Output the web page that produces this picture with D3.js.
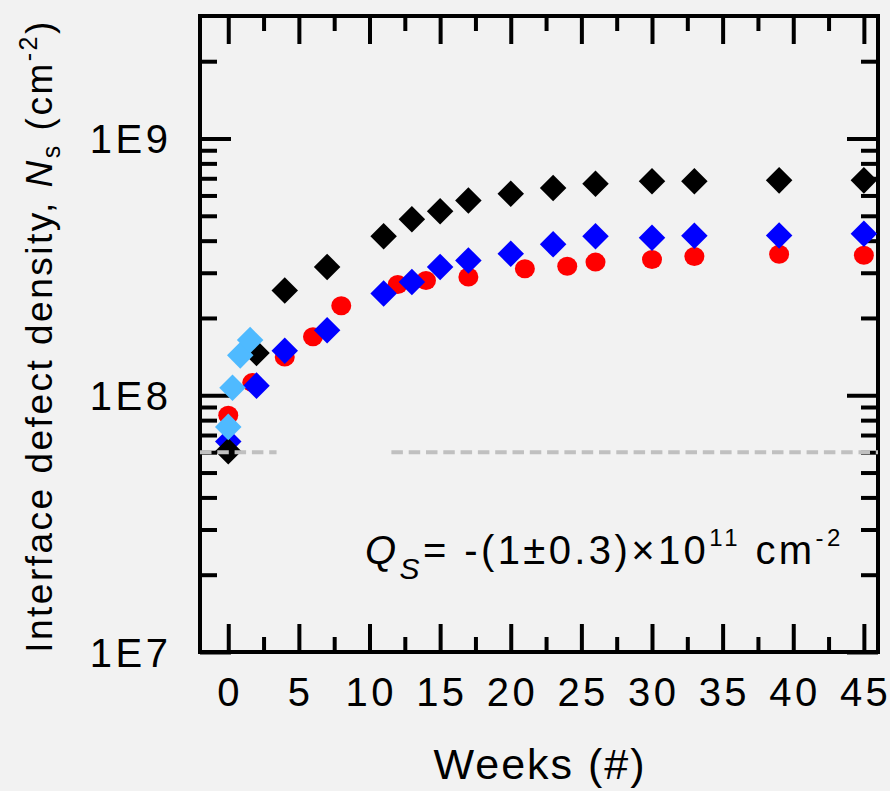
<!DOCTYPE html>
<html>
<head>
<meta charset="utf-8">
<script src="https://cdn.jsdelivr.net/npm/d3@7"></script>
<style>
  html, body { margin: 0; padding: 0; background: #f2f2f2; }
  svg { display: block; }
  text { font-family: "Liberation Sans", Arial, sans-serif; fill: #000; }
</style>
</head>
<body>
<svg id="chart" width="890" height="791"></svg>
<script>
// Interface defect density vs. storage time, four sample series
const weeksBlack = [0, 2, 4, 7, 11, 13, 15, 17, 20, 23, 26, 30, 33, 39, 45];
const nsBlack    = [6.05e7, 1.46e8, 2.56e8, 3.16e8, 4.16e8, 4.85e8, 5.21e8, 5.74e8, 6.09e8, 6.41e8, 6.66e8, 6.82e8, 6.82e8, 6.87e8, 6.87e8];

const weeksBlue  = [0, 2, 4, 7, 11, 13, 15, 17, 20, 23, 26, 30, 33, 39, 45];
const nsBlue     = [6.6e7, 1.09e8, 1.49e8, 1.79e8, 2.49e8, 2.76e8, 3.16e8, 3.35e8, 3.56e8, 3.87e8, 4.16e8, 4.11e8, 4.18e8, 4.19e8, 4.26e8];

const weeksRed   = [0, 1.7, 4, 6, 8, 12, 14, 17, 21, 24, 26, 30, 33, 39, 45];
const nsRed      = [8.36e7, 1.12e8, 1.41e8, 1.69e8, 2.23e8, 2.70e8, 2.80e8, 2.89e8, 3.11e8, 3.18e8, 3.30e8, 3.38e8, 3.47e8, 3.54e8, 3.51e8];

const weeksLight = [0, 0.3, 0.85, 1.55];
const nsLight    = [7.53e7, 1.07e8, 1.43e8, 1.64e8];

// Reference level (dashed) and the weeks where it is interrupted
const baselineNs = 6e7;
const baselineSegments = [[-2, 3.42], [11.55, 46]];

const xMajorTicks = [0, 5, 10, 15, 20, 25, 30, 35, 40, 45];
const xMinorTicks = [2.5, 7.5, 12.5, 17.5, 22.5, 27.5, 32.5, 37.5, 42.5];
const yMajorTicks = [1e7, 1e8, 1e9];
const yMajorLabels = ["1E7", "1E8", "1E9"];
const yMinorTicks = [2e7, 3e7, 4e7, 5e7, 6e7, 7e7, 8e7, 9e7, 2e8, 3e8, 4e8, 5e8, 6e8, 7e8, 8e8, 9e8, 2e9];

const margin = { left: 200, top: 16, right: 12, bottom: 139 };
const W = 890, H = 791;
const iw = W - margin.left - margin.right;
const ih = H - margin.top - margin.bottom;

const svg = d3.select("#chart");
svg.append("rect").attr("width", W).attr("height", H).attr("fill", "#f2f2f2");

const x = d3.scaleLinear().domain([-2, 46]).range([0, iw]);
const y = d3.scaleLog().domain([1e7, 3e9]).range([ih, 0]);

const g = svg.append("g").attr("transform", `translate(${margin.left},${margin.top})`);

// Inward ticks on all four sides
const tickW = 4;
function styleAxis(sel) {
  sel.select(".domain").remove();
  sel.selectAll(".tick line").attr("stroke", "#000").attr("stroke-width", tickW);
  sel.selectAll(".tick text").remove();
}
g.append("g").attr("transform", `translate(0,${ih})`)
  .call(d3.axisBottom(x).tickValues(xMajorTicks).tickSize(-28)).call(styleAxis);
g.append("g").attr("transform", `translate(0,${ih})`)
  .call(d3.axisBottom(x).tickValues(xMinorTicks).tickSize(-15)).call(styleAxis);
g.append("g")
  .call(d3.axisTop(x).tickValues(xMajorTicks).tickSize(-28)).call(styleAxis);
g.append("g")
  .call(d3.axisTop(x).tickValues(xMinorTicks).tickSize(-15)).call(styleAxis);
g.append("g")
  .call(d3.axisLeft(y).tickValues(yMajorTicks).tickSize(-31)).call(styleAxis);
g.append("g")
  .call(d3.axisLeft(y).tickValues(yMinorTicks).tickSize(-17)).call(styleAxis);
g.append("g").attr("transform", `translate(${iw},0)`)
  .call(d3.axisRight(y).tickValues(yMajorTicks).tickSize(-31)).call(styleAxis);
g.append("g").attr("transform", `translate(${iw},0)`)
  .call(d3.axisRight(y).tickValues(yMinorTicks).tickSize(-17)).call(styleAxis);

// Frame
g.append("rect").attr("x", 0).attr("y", 0).attr("width", iw).attr("height", ih)
  .attr("fill", "none").attr("stroke", "#000").attr("stroke-width", 4);

// Tick labels
const LS = 3.5;
g.append("g").selectAll("text").data(xMajorTicks).join("text")
  .attr("x", d => x(d) + LS / 2).attr("y", ih + 54)
  .attr("text-anchor", "middle").attr("font-size", 40)
  .attr("letter-spacing", LS)
  .text(d => d);
g.append("g").selectAll("text").data(yMajorTicks).join("text")
  .attr("x", -32 + LS).attr("y", d => y(d) + 14.5)
  .attr("text-anchor", "end").attr("font-size", 40)
  .attr("letter-spacing", LS)
  .text((d, i) => yMajorLabels[i]);

// Markers
const diamond = d3.symbol().type(d3.symbolSquare).size(352);
function diamonds(weeks, vals, color) {
  g.append("g").selectAll("path").data(weeks).join("path")
    .attr("d", diamond)
    .attr("transform", (d, i) => `translate(${x(d)},${y(vals[i])}) rotate(45)`)
    .attr("fill", color);
}
g.append("g").selectAll("ellipse").data(weeksRed).join("ellipse")
  .attr("cx", d => x(d)).attr("cy", (d, i) => y(nsRed[i]))
  .attr("rx", 10).attr("ry", 9.5).attr("fill", "#ff0000");
diamonds(weeksBlue, nsBlue, "#0000ff");
diamonds(weeksBlack, nsBlack, "#000000");
diamonds(weeksLight, nsLight, "#4fbaff");

// Dashed reference level
g.append("g").selectAll("line").data(baselineSegments).join("line")
  .attr("x1", d => x(d[0])).attr("x2", d => x(d[1]))
  .attr("y1", y(baselineNs)).attr("y2", y(baselineNs))
  .attr("stroke", "#c0c0c0").attr("stroke-width", 4)
  .attr("stroke-dasharray", "11.5,5.8");

// Fixed surface charge annotation
const ann = svg.append("text")
  .attr("x", 365).attr("y", 564)
  .attr("font-size", 40).attr("letter-spacing", 3.4);
ann.append("tspan").attr("font-style", "italic").text("Q");
ann.append("tspan").attr("font-style", "italic").attr("font-size", 30).attr("dy", 15).text("S");
ann.append("tspan").attr("dy", -15).text("= -(1\u00B10.3)\u00D710");
ann.append("tspan").attr("font-size", 24).attr("dy", -18).text("11");
ann.append("tspan").attr("dy", 18).text(" cm");
ann.append("tspan").attr("font-size", 24).attr("dy", -18).text("-2");

// Axis titles
svg.append("text")
  .attr("x", margin.left + iw / 2 + 1).attr("y", 779)
  .attr("text-anchor", "middle").attr("font-size", 43).attr("letter-spacing", 2)
  .text("Weeks (#)");

const yt = svg.append("text")
  .attr("transform", "translate(52,336) rotate(-90)")
  .attr("text-anchor", "middle").attr("font-size", 37).attr("letter-spacing", 2.5);
yt.append("tspan").text("Interface defect density, ");
yt.append("tspan").attr("font-style", "italic").text("N");
yt.append("tspan").attr("font-size", 25).attr("dy", 8).text("s");
yt.append("tspan").attr("dy", -8).text(" (cm");
yt.append("tspan").attr("font-size", 25).attr("dy", -15).text("-2");
yt.append("tspan").attr("dy", 15).text(")");
</script>
</body>
</html>
